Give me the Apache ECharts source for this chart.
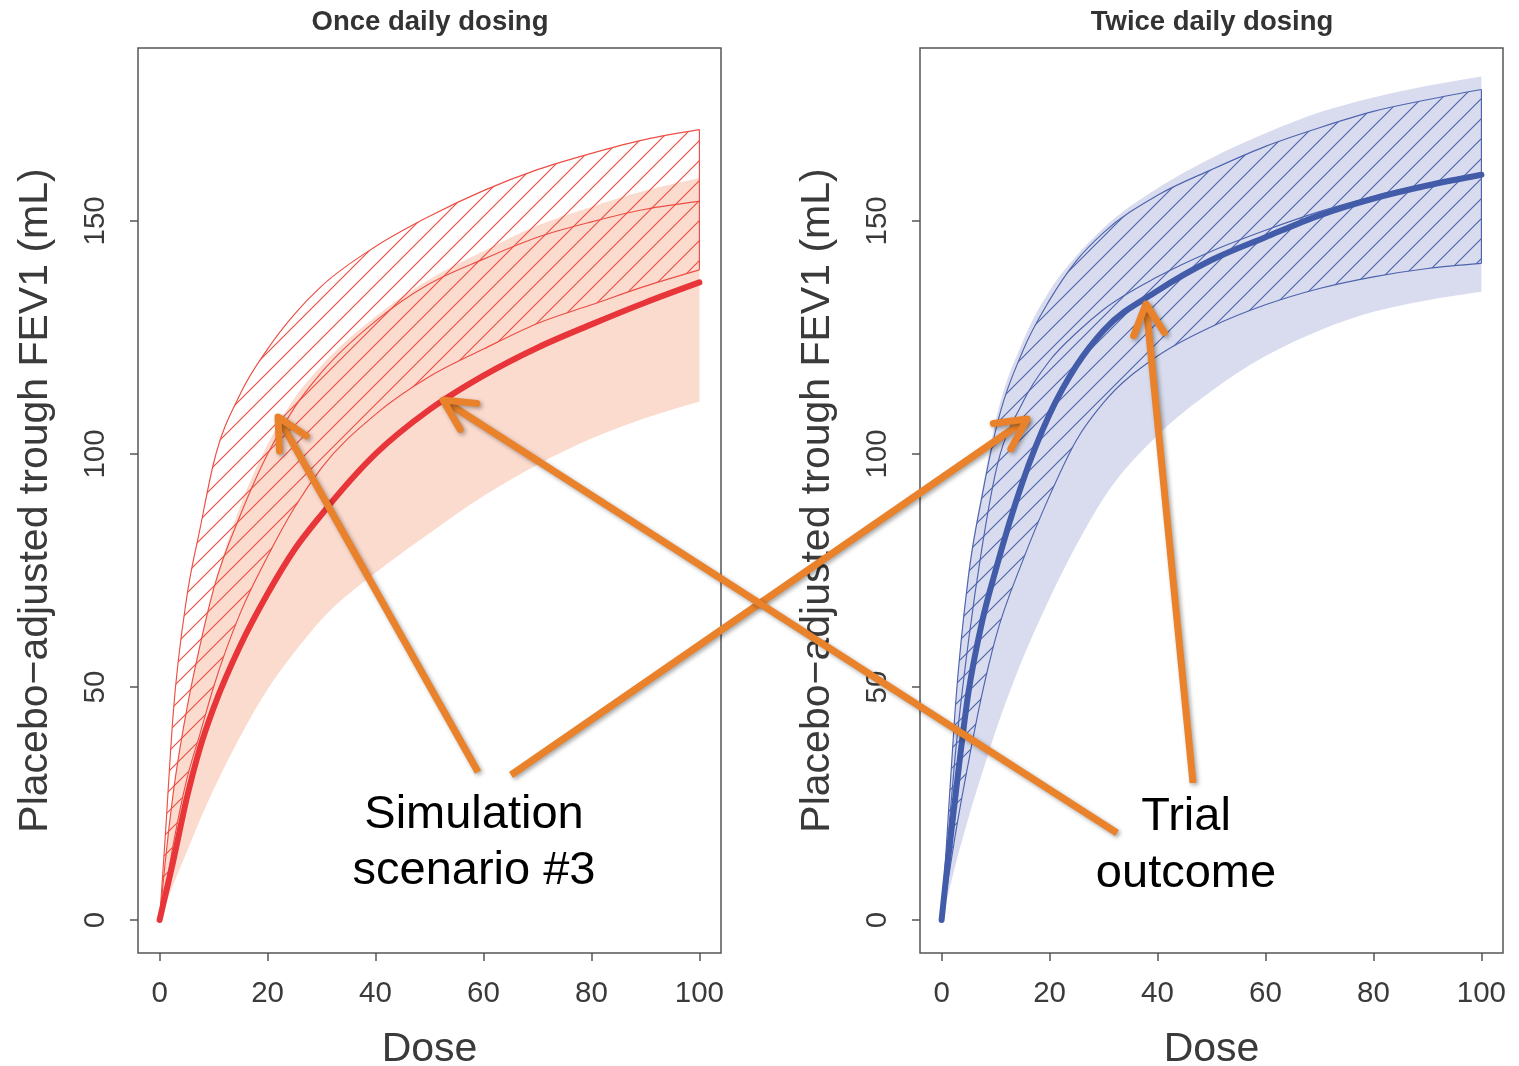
<!DOCTYPE html>
<html>
<head>
<meta charset="utf-8">
<script src="https://cdn.jsdelivr.net/npm/echarts@6/dist/echarts.min.js"></script>
<style>
  html, body { margin: 0; padding: 0; background: #ffffff; }
  #chart { width: 1519px; height: 1066px; }
</style>
</head>
<body>
<div id="chart"></div>
<script>
// ---- data ----
const dose = [0, 1, 2.5, 5, 7.5, 10, 15, 20, 25, 30, 40, 50, 60, 70, 80, 90, 100];
const xTicks = [0, 20, 40, 60, 80, 100];
const yTicks = [0, 50, 100, 150];
const panelTitles = ['Once daily dosing', 'Twice daily dosing'];
const xTitle = 'Dose';
const yTitle = 'Placebo\u2212adjusted trough FEV1 (mL)';

// Once daily dosing (left)
const onceTrial     = [0, 5, 12.5, 26, 37, 45.5, 59, 70, 79.5, 87, 100, 109.5, 116.8, 122.8, 127.8, 132.5, 136.8];
const onceShadeLo   = [0, 3, 7.5, 14.5, 21.5, 28, 39.5, 49.5, 57.5, 64.5, 74.5, 83, 91, 97.7, 103.3, 107.7, 111.2];
const onceShadeHi   = [0, 12, 27, 45, 59, 71, 89, 102, 112, 119, 129.5, 137.5, 143.5, 149, 153, 156.5, 159.2];
const onceHatchLo   = [0, 6, 16, 30, 40, 50, 66, 78, 88.5, 97, 108.5, 116.6, 122.5, 128, 132, 136, 139.5];
const onceHatchHi   = [0, 17, 44, 69, 84, 98, 113, 122.5, 130, 136, 144.5, 151, 156.5, 161, 164.5, 167.5, 169.6];
const onceHatchMid  = [0, 12, 27, 45, 59, 71, 87, 100, 110, 117.5, 128.5, 136.5, 141.8, 146.5, 149.8, 152.5, 154.2];

// Twice daily dosing (right)
const twiceTrial    = [0, 11, 26, 49, 64, 75, 94, 108.5, 119, 126.5, 135, 141.6, 146.5, 151.2, 154.8, 157.6, 159.9];
const twiceShadeLo  = [0, 4.5, 11.5, 22, 31.5, 40.5, 56, 69, 80.5, 90.5, 104, 113.5, 121, 126.5, 130.5, 133, 134.8];
const twiceShadeHi  = [0, 18, 45, 75, 92, 107, 124, 135, 142.5, 148.5, 157, 163.5, 168.8, 173.3, 176.5, 179, 181];
const twiceHatchLo  = [0, 7, 18, 34, 48.5, 60.5, 77, 91, 103, 111, 121, 127.3, 132, 135.5, 138, 139.8, 140.9];
const twiceHatchHi  = [0, 18, 45, 74, 91, 105, 122, 133, 141.5, 147.5, 155.5, 161, 166, 170, 173.5, 176, 178.2];
const twiceHatchMid = [0, 15, 35, 60, 80, 96, 111, 120, 126, 131, 138, 143.5, 148, 152, 155.3, 158, 160.3];

// ---- helpers ----
const FONT = '"Liberation Sans", Arial, Helvetica, sans-serif';

function hatchPattern(color) {
  const s = 20;
  const c = document.createElement('canvas');
  c.width = s; c.height = s;
  const g = c.getContext('2d');
  g.strokeStyle = color;
  g.lineWidth = 1.15;
  g.beginPath();
  g.moveTo(-2, s + 2); g.lineTo(s + 2, -2);
  g.moveTo(-2, 2); g.lineTo(2, -2);
  g.moveTo(s - 2, s + 2); g.lineTo(s + 2, s - 2);
  g.stroke();
  return c;
}

// monotone cubic tangents (in data space)
function tangents(xs, ys) {
  const n = xs.length, d = [], m = new Array(n).fill(0);
  for (let i = 0; i < n - 1; i++) d.push((ys[i + 1] - ys[i]) / (xs[i + 1] - xs[i]));
  for (let i = 1; i < n - 1; i++) {
    const h0 = xs[i] - xs[i - 1], h1 = xs[i + 1] - xs[i], s0 = d[i - 1], s1 = d[i];
    const p = (s0 * h1 + s1 * h0) / (h0 + h1);
    m[i] = ((Math.sign(s0) + Math.sign(s1)) * Math.min(Math.abs(s0), Math.abs(s1), 0.5 * Math.abs(p))) || 0;
  }
  m[0] = (3 * d[0] - m[1]) / 2;
  m[n - 1] = (3 * d[n - 2] - m[n - 2]) / 2;
  return m;
}
function segments(xs, ys) {
  const m = tangents(xs, ys), segs = [];
  for (let i = 0; i < xs.length - 1; i++) {
    const h = xs[i + 1] - xs[i];
    segs.push({
      p0: [xs[i], ys[i]],
      c1: [xs[i] + h / 3, ys[i] + m[i] * h / 3],
      c2: [xs[i + 1] - h / 3, ys[i + 1] - m[i + 1] * h / 3],
      p1: [xs[i + 1], ys[i + 1]]
    });
  }
  return segs;
}
const P = (pt) => pt[0].toFixed(2) + ' ' + pt[1].toFixed(2);
function curvePath(xs, ys, coord) {
  const segs = segments(xs, ys);
  let s = 'M ' + P(coord(segs[0].p0));
  segs.forEach(g => { s += ' C ' + P(coord(g.c1)) + ' ' + P(coord(g.c2)) + ' ' + P(coord(g.p1)); });
  return s;
}
function bandPath(xs, lo, hi, coord) {
  const up = segments(xs, hi), dn = segments(xs, lo);
  let s = 'M ' + P(coord(up[0].p0));
  up.forEach(g => { s += ' C ' + P(coord(g.c1)) + ' ' + P(coord(g.c2)) + ' ' + P(coord(g.p1)); });
  s += ' L ' + P(coord(dn[dn.length - 1].p1));
  for (let i = dn.length - 1; i >= 0; i--) {
    const g = dn[i];
    s += ' C ' + P(coord(g.c2)) + ' ' + P(coord(g.c1)) + ' ' + P(coord(g.p0));
  }
  return s + ' Z';
}

function panelSeries(gi, trial, shLo, shHi, hLo, hHi, hMid, shadeColor, hatchColor, lineColor) {
  const pat = hatchPattern(hatchColor);
  const n = dose.length - 1;
  return {
    type: 'custom', coordinateSystem: 'cartesian2d', xAxisIndex: gi, yAxisIndex: gi,
    silent: true, clip: true, data: [[dose[0], trial[0]]],
    renderItem: function (params, api) {
      const coord = (pt) => api.coord(pt);
      const thin = { fill: 'none', stroke: hatchColor, lineWidth: 1.15 };
      return {
        type: 'group',
        children: [
          { type: 'path', shape: { pathData: bandPath(dose, shLo, shHi, coord) },
            style: { fill: shadeColor, stroke: 'none' } },
          { type: 'path', shape: { pathData: bandPath(dose, hLo, hHi, coord) },
            style: { fill: { image: pat, repeat: 'repeat' }, stroke: 'none' } },
          { type: 'path', shape: { pathData: curvePath(dose, hHi, coord) }, style: thin },
          { type: 'path', shape: { pathData: curvePath(dose, hLo, coord) }, style: thin },
          { type: 'path', shape: { pathData: curvePath(dose, hMid, coord) }, style: thin },
          { type: 'path', shape: { pathData: 'M ' + P(coord([dose[n], hLo[n]])) + ' L ' + P(coord([dose[n], hHi[n]])) },
            style: thin },
          { type: 'path', shape: { pathData: curvePath(dose, trial, coord) },
            style: { fill: 'none', stroke: lineColor, lineWidth: 6, lineCap: 'round', lineJoin: 'round' } }
        ]
      };
    }
  };
}

const gridBox = { top: 48, width: 583, height: 905, show: true, borderColor: '#555555', borderWidth: 1.5,
                  backgroundColor: 'transparent', containLabel: false, outerBoundsMode: 'none' };
const grids = [Object.assign({ left: 138 }, gridBox), Object.assign({ left: 920 }, gridBox)];

function xAxis(gi) {
  return {
    type: 'value', gridIndex: gi, min: -4, max: 104,
    axisLine: { show: false, onZero: false },
    splitLine: { show: false },
    axisTick: { show: true, customValues: xTicks, length: 8, lineStyle: { color: '#555555', width: 1.5 } },
    axisLabel: { customValues: xTicks, fontSize: 29.5, fontFamily: FONT, color: '#3a3a3a', margin: 26 },
    name: xTitle, nameLocation: 'middle', nameGap: 76,
    nameTextStyle: { fontSize: 41, fontFamily: FONT, color: '#3a3a3a' }
  };
}
function yAxis(gi) {
  return {
    type: 'value', gridIndex: gi, min: -7.08, max: 187.1,
    axisLine: { show: false, onZero: false },
    splitLine: { show: false },
    axisTick: { show: true, customValues: yTicks, length: 8, lineStyle: { color: '#555555', width: 1.5 } },
    axisLabel: { customValues: yTicks, fontSize: 29.5, fontFamily: FONT, color: '#3a3a3a', margin: 27, rotate: 90 },
    name: yTitle, nameLocation: 'middle', nameGap: 82,
    nameTextStyle: { fontSize: 41, fontFamily: FONT, color: '#3a3a3a' }
  };
}

// ---- annotations ----
const ORANGE = '#E9822A';
const arrows = [
  { tail: [478, 772], tip: [278, 417] },
  { tail: [511, 775], tip: [1027, 419] },
  { tail: [1117, 833], tip: [443, 400] },
  { tail: [1193, 783], tip: [1146, 304] }
];
const labels = [
  { text: 'Simulation', x: 474, y: 815 },
  { text: 'scenario #3', x: 474, y: 871 },
  { text: 'Trial', x: 1186, y: 817 },
  { text: 'outcome', x: 1186, y: 874 }
];

function arrowGraphics(a) {
  const dx = a.tail[0] - a.tip[0], dy = a.tail[1] - a.tip[1];
  const len = Math.hypot(dx, dy);
  const ux = dx / len, uy = dy / len;
  const L = 34, ang = 27 * Math.PI / 180;
  const rot = (t) => [a.tip[0] + L * (ux * Math.cos(t) - uy * Math.sin(t)),
                      a.tip[1] + L * (ux * Math.sin(t) + uy * Math.cos(t))];
  const shadow = { shadowBlur: 4, shadowColor: 'rgba(0,0,0,0.35)', shadowOffsetX: 2, shadowOffsetY: 2 };
  return [
    { type: 'polyline', z: 100, silent: true,
      shape: { points: [a.tail, a.tip] },
      style: Object.assign({ stroke: ORANGE, lineWidth: 7, lineCap: 'butt', fill: null }, shadow) },
    { type: 'polyline', z: 100, silent: true,
      shape: { points: [rot(ang), a.tip, rot(-ang)] },
      style: Object.assign({ stroke: ORANGE, lineWidth: 7, lineCap: 'round', lineJoin: 'round', fill: null }, shadow) }
  ];
}

const graphics = [];
arrows.forEach(a => graphics.push(...arrowGraphics(a)));
labels.forEach(l => graphics.push({
  type: 'text', z: 101, silent: true, x: l.x, y: l.y,
  style: { text: l.text, fill: '#000000', font: '47px ' + FONT, align: 'center', verticalAlign: 'middle' }
}));

const chart = echarts.init(document.getElementById('chart'), null, { renderer: 'canvas' });
chart.setOption({
  animation: false,
  backgroundColor: '#ffffff',
  title: [
    { text: panelTitles[0], left: 430, top: 8, textAlign: 'center', padding: 0,
      textStyle: { fontSize: 27.5, fontWeight: 'bold', fontFamily: FONT, color: '#333333' } },
    { text: panelTitles[1], left: 1212, top: 8, textAlign: 'center', padding: 0,
      textStyle: { fontSize: 27.5, fontWeight: 'bold', fontFamily: FONT, color: '#333333' } }
  ],
  grid: grids,
  xAxis: [xAxis(0), xAxis(1)],
  yAxis: [yAxis(0), yAxis(1)],
  series: [
    panelSeries(0, onceTrial, onceShadeLo, onceShadeHi, onceHatchLo, onceHatchHi, onceHatchMid,
                '#FCDBCF', '#EC4E44', '#E8353A'),
    panelSeries(1, twiceTrial, twiceShadeLo, twiceShadeHi, twiceHatchLo, twiceHatchHi, twiceHatchMid,
                '#D9DCEE', '#4D64AE', '#425CA9')
  ],
  graphic: graphics
});
</script>
</body>
</html>
